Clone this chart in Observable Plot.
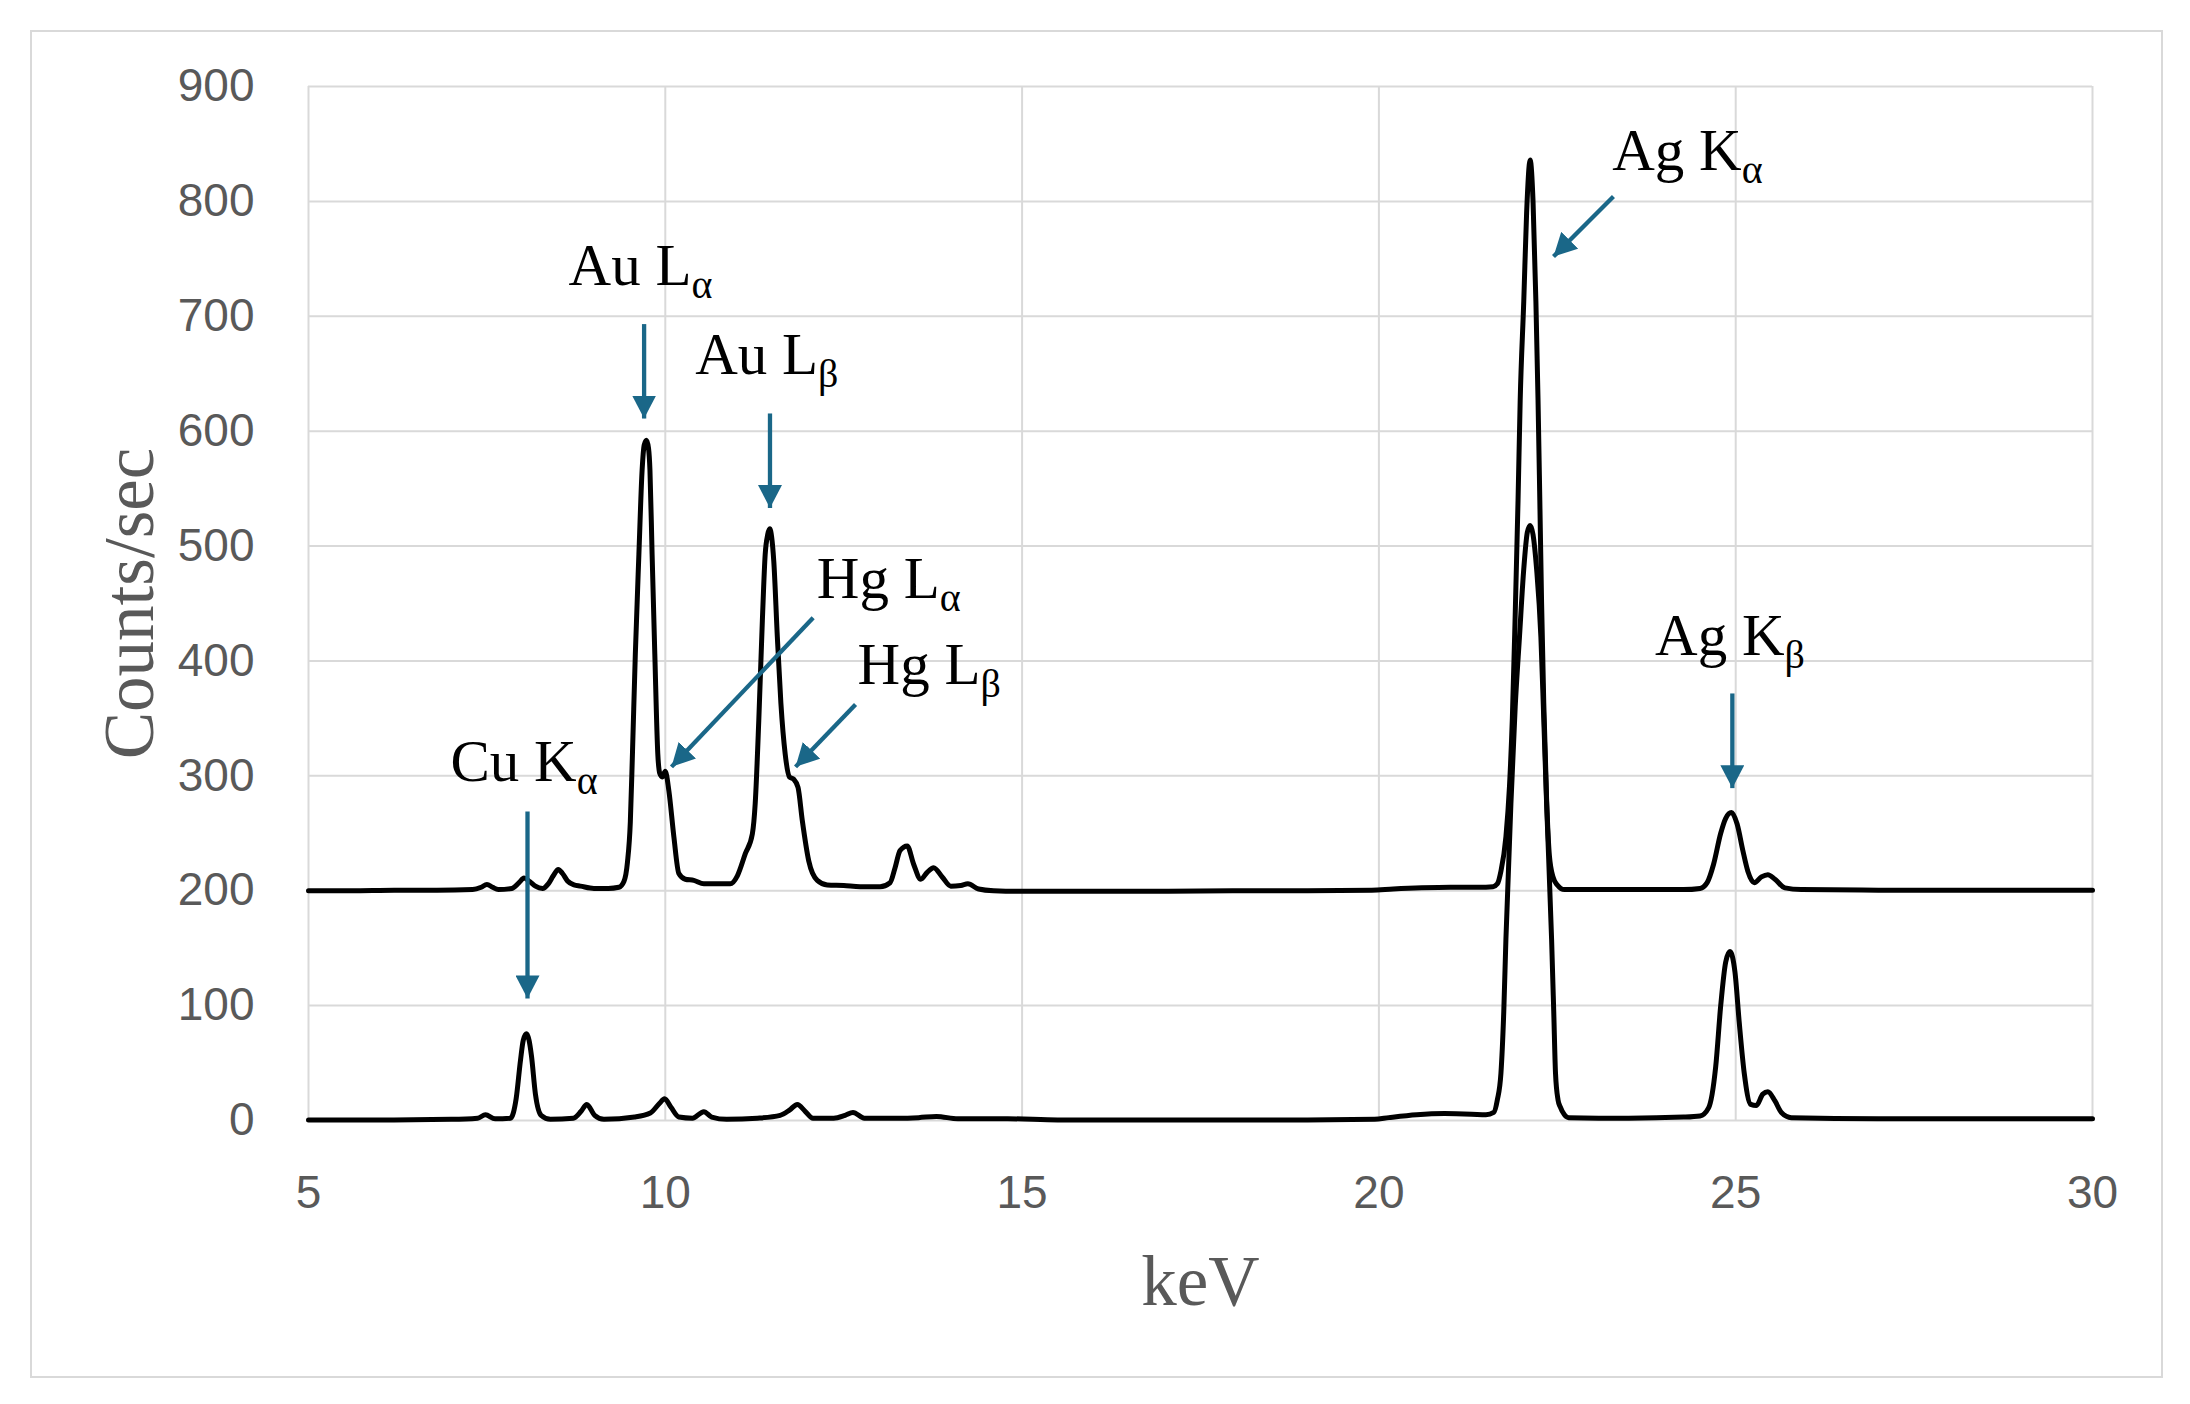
<!DOCTYPE html>
<html><head><meta charset="utf-8">
<script src="https://cdn.jsdelivr.net/npm/d3@7"></script>
<script src="https://cdn.jsdelivr.net/npm/@observablehq/plot@0.6"></script>
<style>
body{margin:0;background:#fff;}
#wrap{position:relative;width:2190px;height:1404px;}
#frame{position:absolute;left:30px;top:30px;width:2129px;height:1344px;border:2px solid #d9d9d9;pointer-events:none;}
svg{display:block;}
</style></head><body><div id="wrap"><div id="frame"></div></div>
<script>
const xTicks = [5, 10, 15, 20, 25, 30];
const yTicks = [0, 100, 200, 300, 400, 500, 600, 700, 800, 900];

const upperKeV = [5.0,5.6,6.2,6.8,7.3,7.42,7.5,7.58,7.66,7.85,7.95,8.02,8.1,8.18,8.28,8.36,8.43,8.5,8.56,8.63,8.72,8.81,9.0,9.2,9.35,9.42,9.47,9.51,9.54,9.58,9.63,9.675,9.705,9.736,9.765,9.785,9.815,9.853,9.895,9.923,9.956,10.0,10.05,10.12,10.19,10.28,10.4,10.54,10.73,10.91,11.01,11.12,11.22,11.26,11.31,11.36,11.4,11.435,11.464,11.49,11.52,11.57,11.62,11.68,11.74,11.8,11.86,11.92,12.01,12.13,12.27,12.5,12.73,13.01,13.15,13.22,13.29,13.39,13.48,13.58,13.67,13.76,13.88,14.0,14.14,14.24,14.39,14.6,15.0,16.0,17.0,18.0,19.0,19.9,20.2,20.6,21.0,21.4,21.6,21.66,21.71,21.78,21.83,21.87,21.91,21.95,21.98,22.03,22.07,22.12,22.16,22.2,22.23,22.255,22.28,22.31,22.35,22.39,22.44,22.5,22.6,23.5,24.27,24.5,24.6,24.69,24.79,24.86,24.94,25.02,25.1,25.17,25.26,25.36,25.45,25.55,25.69,25.92,27.0,28.5,30.0];
const upperCounts = [200,200,200.5,200.5,201,203,205.5,203,201,202,207,211,208,204,202,206,213,218.5,215,208.5,205,204,202,202,203,208,225,260,320,406,493,566,588,592,585,566,493,406,319,302,299,304,287,247,215,210,209,206,206,206,213,232,249.5,276,348,435,493,510,515,508,487,421,363,319,299,297,290,261,226,209,205,204.5,203.5,203.5,207,220,235,239,223,210,216,220,212,204,204.5,206,201.5,200,199.5,199.5,199.5,200,200,200.5,201.5,202.5,203,203,203.5,206,217,247,291,350,440,540,627,713,790,836,800,713,627,540,450,364,280,230,212,205,201,201,201,202,207,223,250,263,268,258,235,217,207,212,214,210,202.5,201,200.5,200.5,200.5];

const lowerKeV = [5.0,6.0,7.0,7.37,7.48,7.615,7.83,7.91,7.97,8.01,8.055,8.09,8.125,8.18,8.26,8.39,8.71,8.82,8.9,9.01,9.14,9.57,9.79,9.92,9.99,10.08,10.19,10.38,10.54,10.65,10.86,11.29,11.61,11.74,11.85,11.96,12.07,12.36,12.52,12.63,12.79,13.27,13.55,13.8,14.1,14.8,15.5,17.0,19.0,19.94,20.14,20.53,20.92,21.3,21.5,21.61,21.66,21.71,21.75,21.78,21.85,21.91,21.97,22.03,22.08,22.12,22.16,22.21,22.27,22.31,22.35,22.42,22.45,22.475,22.51,22.54,22.6,22.66,23.5,24.27,24.5,24.62,24.72,24.79,24.86,24.92,24.99,25.05,25.12,25.21,25.29,25.38,25.45,25.55,25.64,25.78,27.0,28.5,30.0];
const lowerCounts = [0.5,0.5,1,2,5,1.5,2,19,52,70,75.5,70,56,23,4.5,1,2,8,14,4.5,1,3,6.5,15,19,11.5,3,2,7.7,3,1,2,4.5,9,14,8,2,2,4.5,7,2,2,2.5,3.5,1.5,1.5,0.5,0.5,0.5,1,2.5,5,6,5.5,5,7,18,41,95,158,276,360,421,480,512,518,510,480,421,350,276,158,95,41,18,12,5,2.5,2,3,4,11,47,100,138,147,129,85,41,14,13,23,25,17,7,2.5,1.5,1.5,1.5];

const labelText = ["Au L_α", "Au L_β", "Hg L_α", "Hg L_β", "Cu K_α", "Ag K_α", "Ag K_β"];
const labelKeV = [8.644, 10.418, 12.123, 12.694, 6.99, 23.27, 23.87];
const labelCounts = [727.6, 649.7, 455.2, 379.5, 295.9, 826.9, 405.6];

const arrowFromKeV = [9.703, 11.467, 12.072, 12.666, 8.069, 23.287, 24.953];
const arrowFromCounts = [693.2, 615.4, 437.6, 362.1, 269, 804.2, 371.7];
const arrowToKeV = [9.703, 11.467, 10.087, 11.825, 8.069, 22.447, 24.953];
const arrowToCounts = [611.0, 533.1, 307.8, 307.8, 106.2, 752.0, 289.3];

const upper = upperKeV.map((k, i) => ({keV: k, counts: upperCounts[i]}));
const lower = lowerKeV.map((k, i) => ({keV: k, counts: lowerCounts[i]}));
const labels = labelText.map((t, i) => ({text: t, keV: labelKeV[i], counts: labelCounts[i]}));
const arrows = arrowFromKeV.map((k, i) => ({x1: k, y1: arrowFromCounts[i], x2: arrowToKeV[i], y2: arrowToCounts[i]}));

const serif = "'Liberation Serif', 'Times New Roman', serif";
const arrowColor = "#1a6788";
const gridStyle = {stroke: "#d9d9d9", strokeOpacity: 1, strokeWidth: 2};

const svg = Plot.plot({
  width: 2190, height: 1404,
  marginLeft: 308, marginRight: 98, marginTop: 86, marginBottom: 284,
  x: {domain: [5, 30]},
  y: {domain: [0, 900]},
  style: {fontFamily: "'Liberation Sans', Arial, sans-serif", background: "white", color: "#595959"},
  marks: [
    Plot.gridX(xTicks, gridStyle),
    Plot.gridY(yTicks, gridStyle),
    Plot.axisX(xTicks, {tickSize: 0, tickPadding: 55, fontSize: 46, label: null, fill: "#595959"}),
    Plot.axisY(yTicks, {tickSize: 0, tickPadding: 54, fontSize: 46, label: null, fill: "#595959"}),
    Plot.line(upper, {x: "keV", y: "counts", stroke: "black", strokeWidth: 5, curve: "monotone-x"}),
    Plot.line(lower, {x: "keV", y: "counts", stroke: "black", strokeWidth: 5, curve: "monotone-x"}),
    Plot.link(arrows, {x1: "x1", y1: "y1", x2: "x2", y2: "y2", stroke: arrowColor, strokeWidth: 4.3}),
    Plot.text(labels, {x: "keV", y: "counts", text: "text", textAnchor: "start", lineAnchor: "bottom", fontSize: 59, fontFamily: serif, fill: "black"}),
    Plot.text(["Counts/sec"], {text: d => d, frameAnchor: "left", dx: -178, rotate: -90, textAnchor: "middle", lineAnchor: "middle", fontSize: 71, fontFamily: serif, fill: "#595959"}),
    Plot.text(["keV"], {text: d => d, frameAnchor: "bottom", dy: 162, textAnchor: "middle", lineAnchor: "middle", fontSize: 71, fontFamily: serif, fill: "#595959"})
  ]
});

// subscripts
const ns = "http://www.w3.org/2000/svg";
svg.querySelectorAll("text").forEach(t => {
  const s = t.textContent;
  const k = s.indexOf("_");
  if (k < 0) return;
  t.textContent = "";
  const a = document.createElementNS(ns, "tspan");
  a.textContent = s.slice(0, k);
  const b = document.createElementNS(ns, "tspan");
  b.textContent = s.slice(k + 1);
  b.setAttribute("font-size", "40");
  b.setAttribute("dy", "13");
  t.appendChild(a);
  t.appendChild(b);
});

// filled arrowheads
const defs = d3.select(svg).insert("defs", ":first-child");
defs.append("marker")
  .attr("id", "arrowhead")
  .attr("viewBox", "0 0 23 24")
  .attr("refX", 23).attr("refY", 12)
  .attr("markerWidth", 23).attr("markerHeight", 24)
  .attr("markerUnits", "userSpaceOnUse")
  .attr("orient", "auto")
  .append("path").attr("d", "M0,0L23,12L0,24Z").attr("fill", arrowColor);
svg.querySelectorAll('g[aria-label="link"] path').forEach(p => p.setAttribute("marker-end", "url(#arrowhead)"));

document.getElementById("wrap").prepend(svg);
</script>
</body></html>
